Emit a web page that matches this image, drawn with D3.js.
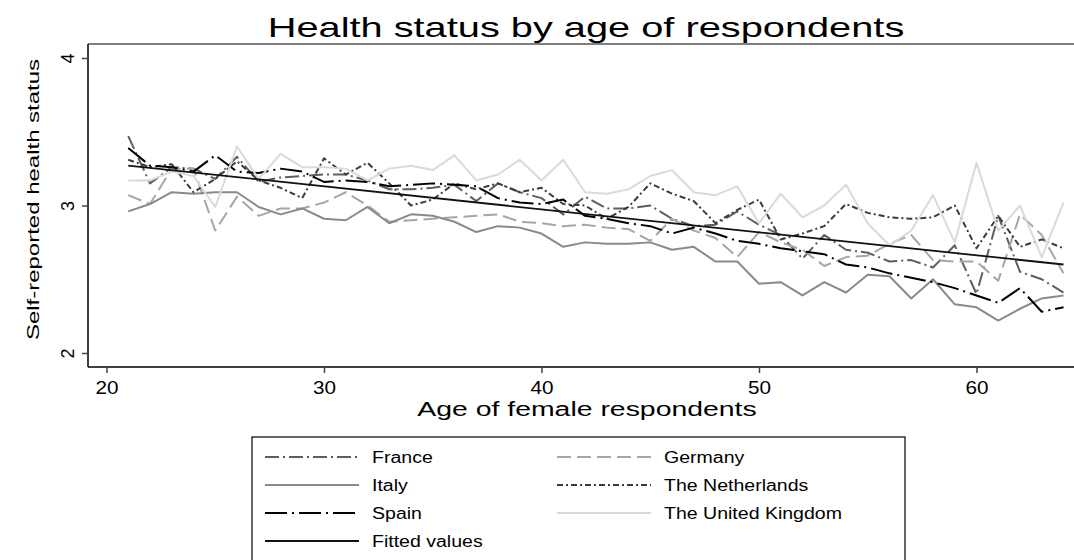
<!DOCTYPE html>
<html>
<head>
<meta charset="utf-8">
<script src="https://cdn.jsdelivr.net/npm/d3@7"></script>
<style>
  body { margin: 0; background: #fff; }
  svg text { font-family: "Liberation Sans", Arial, sans-serif; fill: #000; }
</style>
</head>
<body>
<div id="chart"></div>
<script>
// Data (mean self-reported health by age)
const ages = d3.range(21, 65);
const france = [3.47, 3.15, 3.26, 3.25, 3.18, 3.33, 3.16, 3.19, 3.20, 3.21, 3.21, 3.17, 3.11, 3.11, 3.12, 3.14, 3.03, 3.15, 3.09, 3.05, 2.94, 3.06, 2.98, 2.98, 3.00, 2.91, 2.86, 2.87, 2.96, 2.87, 2.80, 2.64, 2.80, 2.70, 2.68, 2.62, 2.63, 2.58, 2.73, 2.40, 2.93, 2.55, 2.50, 2.41];
const germany = [3.07, 3.01, 3.25, 3.25, 2.83, 3.06, 2.93, 2.98, 2.98, 3.02, 3.09, 3.00, 2.89, 2.90, 2.91, 2.92, 2.93, 2.94, 2.89, 2.88, 2.86, 2.87, 2.85, 2.84, 2.76, 2.91, 2.83, 2.78, 2.65, 2.82, 2.75, 2.70, 2.59, 2.65, 2.66, 2.74, 2.80, 2.63, 2.62, 2.62, 2.49, 2.94, 2.80, 2.54];
const italy = [2.96, 3.01, 3.09, 3.08, 3.09, 3.09, 2.99, 2.94, 2.98, 2.91, 2.90, 2.99, 2.88, 2.94, 2.93, 2.89, 2.82, 2.86, 2.85, 2.81, 2.72, 2.75, 2.74, 2.74, 2.75, 2.70, 2.72, 2.62, 2.62, 2.47, 2.48, 2.39, 2.48, 2.41, 2.53, 2.52, 2.37, 2.50, 2.33, 2.31, 2.22, 2.30, 2.37, 2.39];
const netherlands = [3.31, 3.26, 3.28, 3.09, 3.18, 3.30, 3.17, 3.12, 3.05, 3.32, 3.21, 3.29, 3.15, 3.00, 3.04, 3.15, 3.11, 3.15, 3.09, 3.12, 3.01, 3.00, 2.91, 2.99, 3.15, 3.08, 3.03, 2.88, 2.97, 3.04, 2.77, 2.81, 2.86, 3.01, 2.95, 2.92, 2.91, 2.92, 3.00, 2.71, 2.93, 2.72, 2.77, 2.71];
const spain = [3.39, 3.27, 3.26, 3.23, 3.34, 3.23, 3.22, 3.25, 3.23, 3.16, 3.17, 3.16, 3.13, 3.14, 3.15, 3.14, 3.13, 3.05, 3.02, 3.01, 3.04, 2.93, 2.91, 2.88, 2.86, 2.81, 2.85, 2.81, 2.76, 2.74, 2.71, 2.69, 2.67, 2.60, 2.58, 2.54, 2.51, 2.48, 2.44, 2.39, 2.34, 2.44, 2.28, 2.31];
const uk = [3.17, 3.17, 3.23, 3.20, 2.99, 3.40, 3.18, 3.35, 3.26, 3.26, 3.25, 3.17, 3.25, 3.27, 3.24, 3.34, 3.17, 3.21, 3.31, 3.17, 3.31, 3.09, 3.08, 3.11, 3.20, 3.24, 3.09, 3.07, 3.13, 2.88, 3.08, 2.92, 3.00, 3.14, 2.88, 2.73, 2.83, 3.07, 2.75, 3.29, 2.83, 3.00, 2.65, 3.02];
const fittedAges = [21, 64];
const fittedValues = [3.27, 2.60];

const xTicks = [20, 30, 40, 50, 60];
const yTicks = [2, 3, 4];

// Series styles, in legend order
const series = [
  { name: "France", ages: ages, values: france, color: "#5e5e5e", dash: "14,4,2,4", width: 2 },
  { name: "Germany", ages: ages, values: germany, color: "#a6a6a6", dash: "14,6", width: 2 },
  { name: "Italy", ages: ages, values: italy, color: "#8a8a8a", dash: null, width: 2 },
  { name: "The Netherlands", ages: ages, values: netherlands, color: "#3c3c3c", dash: "6,3,2,3", width: 2 },
  { name: "Spain", ages: ages, values: spain, color: "#000000", dash: "22,5,2,5", width: 2 },
  { name: "The United Kingdom", ages: ages, values: uk, color: "#dadada", dash: null, width: 2 },
  { name: "Fitted values", ages: fittedAges, values: fittedValues, color: "#111111", dash: null, width: 1.8 }
];

const W = 1074, H = 560;
const plot = { left: 88, top: 44, right: 1090, bottom: 367 };

// The original text is drawn a bit wider than normal glyphs
function stretch(sel, factor) {
  sel.each(function () {
    const len = this.getComputedTextLength();
    d3.select(this)
      .attr("textLength", len * factor)
      .attr("lengthAdjust", "spacingAndGlyphs");
  });
}

const svg = d3.select("#chart").append("svg")
  .attr("width", W)
  .attr("height", H);

// Scales
const x = d3.scaleLinear().domain([20, 60]).range([106.5, 976.5]);
const y = d3.scaleLinear().domain([2, 4]).range([353, 58]);

// Title
svg.append("text")
  .attr("x", 586)
  .attr("y", 37)
  .attr("text-anchor", "middle")
  .style("font-size", "28px")
  .text("Health status by age of respondents")
  .call(stretch, 1.42);

// Plot frame (top side)
svg.append("line")
  .attr("x1", plot.left).attr("x2", plot.right)
  .attr("y1", plot.top).attr("y2", plot.top)
  .attr("stroke", "#555").attr("stroke-width", 1.5);

// Axes
const xAxis = svg.append("g")
  .attr("transform", `translate(0, ${plot.bottom})`)
  .call(d3.axisBottom(x).tickValues(xTicks).tickSize(6).tickPadding(8).tickFormat(d3.format("d")));
xAxis.select(".domain").attr("d", `M${plot.left},0H${plot.right}`).attr("stroke-width", 1.5);
xAxis.selectAll(".tick line").attr("stroke", "#444").attr("stroke-width", 1.5);
xAxis.selectAll("text")
  .style("font-size", "18px")
  .style("font-family", "Liberation Sans, Arial, sans-serif")
  .call(stretch, 1.15);

const yAxis = svg.append("g")
  .attr("transform", `translate(${plot.left}, 0)`)
  .call(d3.axisLeft(y).tickValues(yTicks).tickSize(6).tickFormat(d3.format("d")));
yAxis.select(".domain").attr("d", `M0,${plot.top}V${plot.bottom}`).attr("stroke-width", 1.5);
yAxis.selectAll(".tick line").attr("stroke", "#444").attr("stroke-width", 1.5);
yAxis.selectAll(".tick text")
  .attr("x", 0).attr("dy", null)
  .attr("text-anchor", "middle")
  .attr("transform", "translate(-14,0) rotate(-90)")
  .style("font-size", "18px")
  .style("font-family", "Liberation Sans, Arial, sans-serif");

// Axis labels
svg.append("text")
  .attr("x", 587)
  .attr("y", 416)
  .attr("text-anchor", "middle")
  .style("font-size", "20px")
  .text("Age of female respondents")
  .call(stretch, 1.42);

svg.append("text")
  .attr("transform", `translate(39, ${(plot.top + plot.bottom) / 2 - 6}) rotate(-90)`)
  .attr("text-anchor", "middle")
  .style("font-size", "17px")
  .text("Self-reported health status")
  .call(stretch, 1.41);

// Lines
const line = d3.line()
  .x(d => x(d[0]))
  .y(d => y(d[1]));

svg.append("g").selectAll("path")
  .data(series)
  .join("path")
  .attr("d", s => line(s.ages.map((a, i) => [a, s.values[i]])))
  .attr("fill", "none")
  .attr("stroke", s => s.color)
  .attr("stroke-width", s => s.width)
  .attr("stroke-dasharray", s => s.dash)
  .attr("stroke-linejoin", "round");

// Legend
const legend = svg.append("g").attr("transform", "translate(252, 437)");
legend.append("rect")
  .attr("width", 653).attr("height", 140)
  .attr("fill", "#fff").attr("stroke", "#000").attr("stroke-width", 1.2);

const items = legend.selectAll("g.item")
  .data(series)
  .join("g")
  .attr("class", "item")
  .attr("transform", (d, i) => `translate(${(i % 2) * 292 + 13}, ${Math.floor(i / 2) * 28 + 20})`);

items.append("line")
  .attr("x1", 0).attr("x2", 94)
  .attr("stroke", d => d.color)
  .attr("stroke-width", d => d.width)
  .attr("stroke-dasharray", d => d.dash);

items.append("text")
  .attr("x", 107)
  .attr("dy", "0.35em")
  .style("font-size", "16px")
  .text(d => d.name)
  .call(stretch, 1.22);
</script>
</body>
</html>
